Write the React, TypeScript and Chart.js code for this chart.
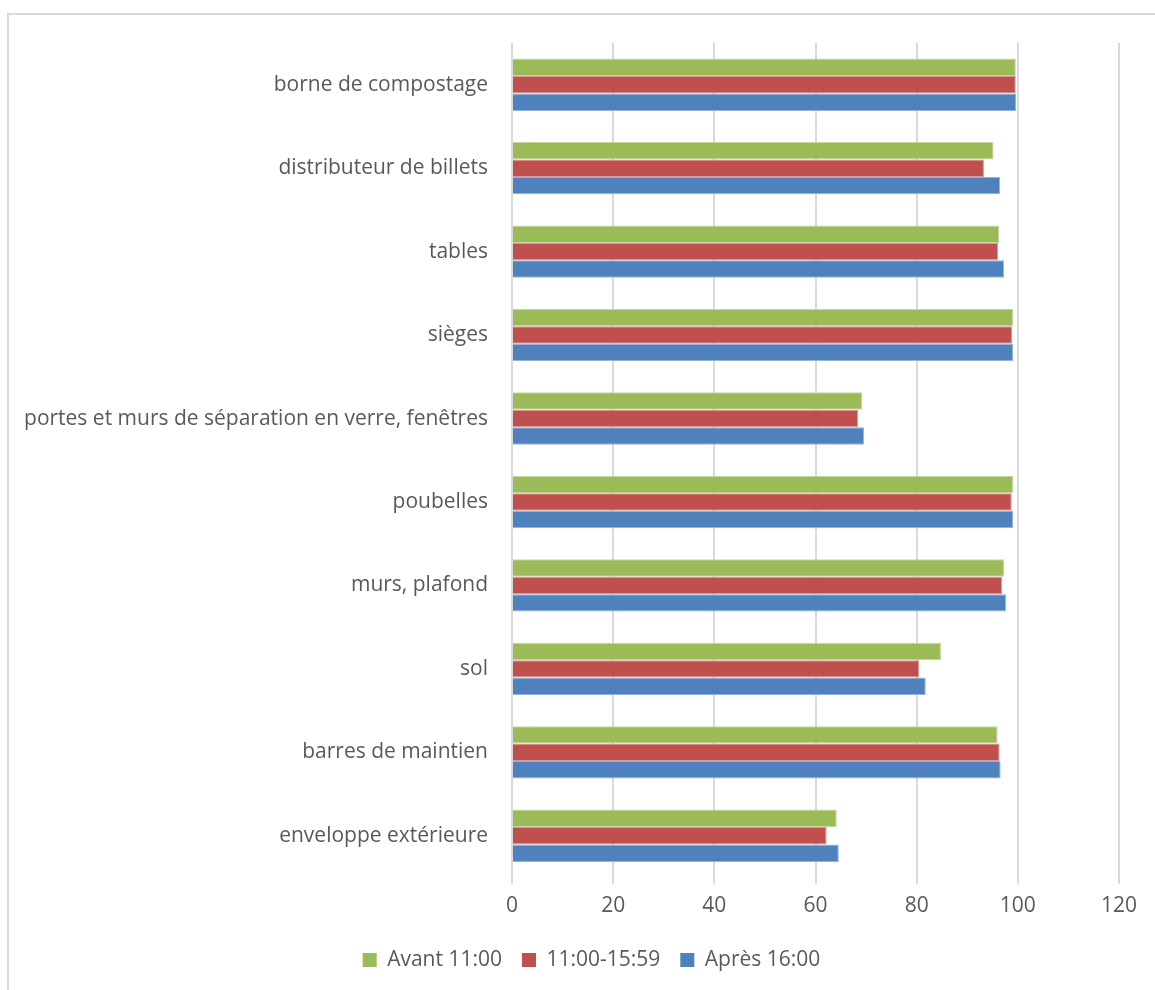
import React, { useEffect, useRef } from "react";
import { Chart, registerables } from "chart.js";

Chart.register(...registerables);

// Categories, listed from the top of the chart to the bottom
const categories = [
  "borne de compostage",
  "distributeur de billets",
  "tables",
  "sièges",
  "portes et murs de séparation en verre, fenêtres",
  "poubelles",
  "murs, plafond",
  "sol",
  "barres de maintien",
  "enveloppe extérieure",
];

const seriesNames = ["Avant 11:00", "11:00-15:59", "Après 16:00"];

const avant11 = [99.6, 95.2, 96.3, 99.1, 69.2, 99.1, 97.3, 84.8, 96.0, 64.2];
const midi = [99.6, 93.3, 96.1, 98.9, 68.4, 98.8, 96.9, 80.5, 96.4, 62.2];
const apres16 = [99.7, 96.5, 97.3, 99.1, 69.6, 99.1, 97.7, 81.8, 96.6, 64.6];

const xTicks = [0, 20, 40, 60, 80, 100, 120];

const colors = ["#9BBB59", "#C0504D", "#4F81BD"];
const edgeColors = ["#C3D69B", "#D99795", "#95B3D7"];

const FONT = "'Open Sans', Lato, sans-serif";

// Nudges the legend row to the right so it sits centred on the whole frame
const legendShift = {
  id: "legendShift",
  afterLayout(chart: any) {
    const lg = chart.legend;
    if (lg) {
      lg.left += 32;
      lg.right += 32;
    }
  },
};

export default function App() {
  const canvasRef = useRef<HTMLCanvasElement | null>(null);

  useEffect(() => {
    const canvas = canvasRef.current;
    if (!canvas) return;
    const seriesValues = [avant11, midi, apres16];
    const chart = new Chart(canvas, {
      type: "bar",
      data: {
        labels: categories,
        datasets: seriesNames.map((name, i) => ({
          label: name,
          data: seriesValues[i],
          backgroundColor: colors[i],
          borderColor: edgeColors[i],
          borderWidth: 1,
          borderSkipped: "start",
          categoryPercentage: 0.627,
          barPercentage: 1,
        })),
      },
      options: {
        indexAxis: "y",
        animation: false,
        responsive: false,
        maintainAspectRatio: false,
        layout: { padding: { top: 43, right: 36, left: 0, bottom: 9.5 } },
        scales: {
          x: {
            min: 0,
            max: 120,
            afterBuildTicks: (scale: any) => {
              scale.ticks = xTicks.map((v) => ({ value: v }));
            },
            afterFit: (scale: any) => {
              scale.height = 52;
            },
            grid: {
              color: "#D9D9D9",
              lineWidth: 2,
              drawTicks: true,
              tickLength: 6,
              tickColor: "#D9D9D9",
            },
            border: { display: false },
            ticks: {
              color: "#595959",
              font: { family: FONT, size: 21 },
              padding: 10,
            },
          },
          y: {
            afterFit: (scale: any) => {
              scale.width = 512;
            },
            grid: { display: false, drawTicks: false },
            border: { display: false },
            ticks: {
              color: "#595959",
              font: { family: FONT, size: 21 },
              padding: 24,
            },
          },
        },
        plugins: {
          legend: {
            position: "bottom",
            labels: {
              color: "#595959",
              font: { family: FONT, size: 21 },
              boxWidth: 14,
              boxHeight: 14,
              padding: 20,
              generateLabels: (ch: any) =>
                ch.data.datasets.map((ds: any, i: number) => ({
                  text: ds.label,
                  fillStyle: colors[i],
                  strokeStyle: colors[i],
                  lineWidth: 0,
                  hidden: false,
                  datasetIndex: i,
                  fontColor: "#595959",
                })),
            },
          },
          tooltip: { enabled: false },
        },
      },
      plugins: [legendShift],
    });
    return () => chart.destroy();
  }, []);

  return (
    <div
      style={{
        position: "fixed",
        left: 0,
        top: 0,
        width: 1155,
        height: 990,
        overflow: "hidden",
        background: "#ffffff",
      }}
    >
      <div
        style={{
          position: "absolute",
          left: 7,
          top: 13,
          width: 1180,
          height: 1000,
          border: "2px solid #D9D9D9",
          boxSizing: "border-box",
        }}
      />
      <canvas
        ref={canvasRef}
        width={1155}
        height={990}
        style={{ position: "absolute", left: 0, top: 0 }}
      />
    </div>
  );
}
